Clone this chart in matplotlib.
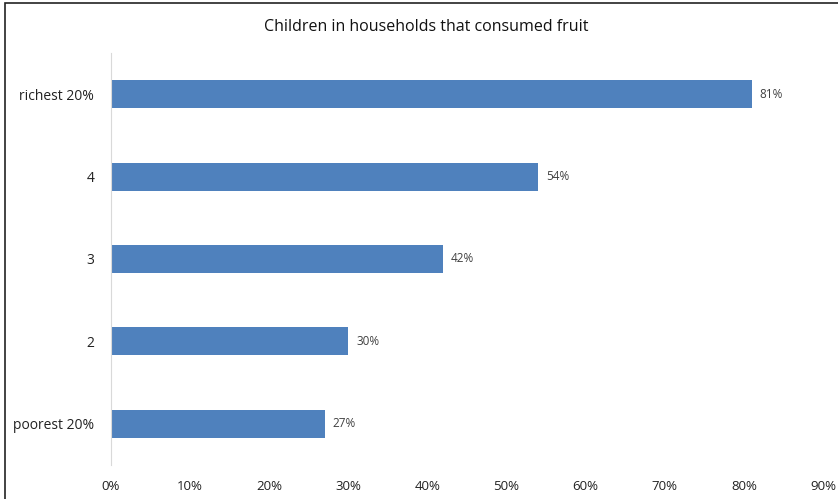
#!/usr/bin/env python3

import matplotlib.pyplot as plt
from matplotlib.patches import Rectangle

categories = ["poorest 20%", "2", "3", "4", "richest 20%"]
values = [27, 30, 42, 54, 81]
xticks = [0, 10, 20, 30, 40, 50, 60, 70, 80, 90]

plt.rcParams["font.family"] = ["Open Sans", "DejaVu Sans"]

fig = plt.figure(figsize=(8.38, 4.99), dpi=100)
ax = fig.add_axes([111 / 838, 34 / 499, 712 / 838, 412 / 499])

bars = ax.barh(range(len(categories)), values, height=0.34, color="#4F81BD")
for b, v in zip(bars, values):
    ax.text(b.get_width() + 1, b.get_y() + b.get_height() / 2, f"{v}%",
            va="center", ha="left", fontsize=8.5, color="#404040")

ax.set_xlim(0, 90)
ax.set_ylim(-0.5, len(categories) - 0.5)
ax.set_xticks(xticks)
ax.set_xticklabels([f"{t}%" for t in xticks], fontsize=9.5, color="#222222")
ax.set_yticks(range(len(categories)))
ax.set_yticklabels(categories, fontsize=10, color="#222222")
ax.tick_params(axis="both", length=0)
ax.tick_params(axis="x", pad=11)
ax.tick_params(axis="y", pad=12)
for side in ["top", "right", "bottom"]:
    ax.spines[side].set_visible(False)
ax.spines["left"].set_color("#D9D9D9")

fig.text(426 / 838, 1 - 27 / 499, "Children in households that consumed fruit",
         ha="center", va="center", fontsize=11.5, color="#111111")

# outer chart frame, running off the right and bottom edges
fig.patches.append(Rectangle((5 / 838, -0.05), 1.0, 1 - 3 / 499 + 0.05,
                             transform=fig.transFigure, fill=False,
                             edgecolor="#222222", linewidth=1.2))

plt.savefig("out.png", dpi=100)
